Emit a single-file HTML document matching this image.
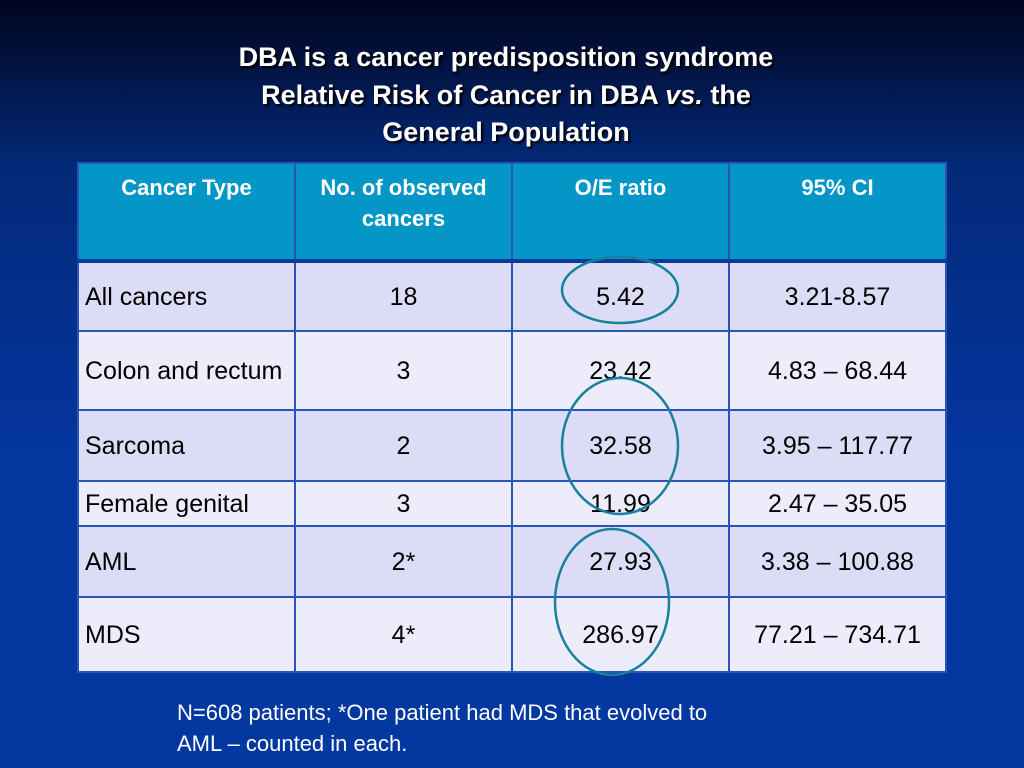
<!DOCTYPE html>
<html><head><meta charset="utf-8"><style>
body{margin:0;width:1024px;height:768px;overflow:hidden;font-family:"Liberation Sans",sans-serif;background:linear-gradient(180deg,#02051e 0%,#032a7a 22%,#0436a0 60%,#0338a0 100%);position:relative}
.t{position:absolute;left:0;width:1012px;text-align:center;color:#fff;font-weight:bold;font-size:27px;text-shadow:2px 2px 2px #000}
table{position:absolute;left:77px;top:162px;border-collapse:collapse;width:870px;table-layout:fixed}
td{border:2px solid #2a55b8;font-size:25px;color:#000;text-align:center;padding:0 6px;line-height:34px}
td.l{text-align:left}
th{background:#0596c8;color:#fff;font-size:22px;font-weight:bold;vertical-align:top;padding-top:8px;border:2px solid #2a55b8;border-bottom:4px solid #0a3a9a;height:86px;line-height:31px}
tr.a td{background:#dcdcf6}tr.b td{background:#ececfb}
.f{position:absolute;left:177px;color:#fff;font-size:22px}
</style></head><body>
<div class="t" style="top:42px">DBA is a cancer predisposition syndrome</div>
<div class="t" style="top:80px">Relative Risk of Cancer in DBA <i>vs.</i> the</div>
<div class="t" style="top:117px">General Population</div>
<table>
<tr><th>Cancer Type</th><th>No. of observed cancers</th><th>O/E ratio</th><th>95% CI</th></tr>
<tr class="a" style="height:70px"><td class="l">All cancers</td><td>18</td><td>5.42</td><td>3.21-8.57</td></tr>
<tr class="b" style="height:79px"><td class="l">Colon and rectum</td><td>3</td><td>23.42</td><td>4.83 – 68.44</td></tr>
<tr class="a" style="height:71px"><td class="l">Sarcoma</td><td>2</td><td>32.58</td><td>3.95 – 117.77</td></tr>
<tr class="b" style="height:45px"><td class="l">Female genital</td><td>3</td><td>11.99</td><td>2.47 – 35.05</td></tr>
<tr class="a" style="height:71px"><td class="l">AML</td><td>2*</td><td>27.93</td><td>3.38 – 100.88</td></tr>
<tr class="b" style="height:75px"><td class="l">MDS</td><td>4*</td><td>286.97</td><td>77.21 – 734.71</td></tr>
</table>
<svg width="1024" height="768" style="position:absolute;left:0;top:0">
<g fill="none" stroke="#17809a" stroke-width="2.5">
<ellipse cx="620" cy="290" rx="58" ry="33"/>
<ellipse cx="620" cy="446" rx="58" ry="68"/>
<ellipse cx="612" cy="602" rx="57" ry="73"/>
</g></svg>
<div class="f" style="top:700px">N=608 patients; *One patient had MDS that evolved to</div>
<div class="f" style="top:731px">AML – counted in each.</div>
</body></html>
